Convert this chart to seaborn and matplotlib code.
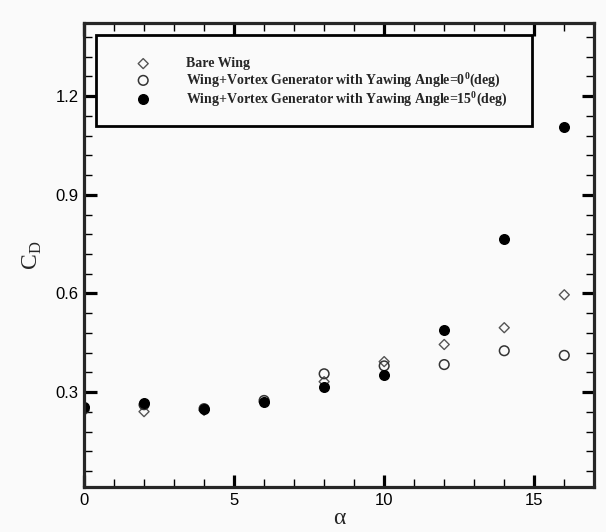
import matplotlib
matplotlib.use("Agg")
import matplotlib.pyplot as plt
import seaborn as sns
from matplotlib.ticker import MultipleLocator

# angle of attack (deg)
alpha = [0, 2, 4, 6, 8, 10, 12, 14, 16]

# drag coefficient for the three configurations
cd_bare = [0.244, 0.241, 0.245, 0.270, 0.332, 0.393, 0.445, 0.496, 0.596]
cd_vg0 = [0.250, 0.262, 0.250, 0.275, 0.356, 0.380, 0.384, 0.426, 0.412]
cd_vg15 = [0.256, 0.266, 0.249, 0.271, 0.315, 0.353, 0.489, 0.765, 1.105]

labels = [
    "Bare Wing",
    r"Wing+Vortex Generator with Yawing Angle=0$^{\mathbf{0}}$(deg)",
    r"Wing+Vortex Generator with Yawing Angle=15$^{\mathbf{0}}$(deg)",
]

sns.set_style("ticks")
plt.rcParams["font.family"] = ["Liberation Sans", "DejaVu Sans"]
plt.rcParams["mathtext.fontset"] = "custom"
plt.rcParams["mathtext.rm"] = "Liberation Serif"
plt.rcParams["mathtext.bf"] = "Liberation Serif:bold"

bg = "#fafafa"
fig = plt.figure(figsize=(6.06, 5.32), dpi=100, facecolor=bg)
ax = fig.add_axes([0.1386, 0.0846, 0.8421, 0.8716], facecolor=bg)

# draw order: diamonds, open circles, filled circles on top
sns.scatterplot(x=alpha, y=cd_bare, marker="D", s=26, facecolor="none",
                edgecolor="#555555", linewidth=1.0, label=labels[0], ax=ax)
sns.scatterplot(x=alpha, y=cd_vg0, marker="o", s=48, facecolor="none",
                edgecolor="#333333", linewidth=1.1, label=labels[1], ax=ax)
sns.scatterplot(x=alpha, y=cd_vg15, marker="o", s=48, facecolor="black",
                edgecolor="black", linewidth=1.0, label=labels[2], ax=ax)

ax.set_xlim(0, 17)
ax.set_ylim(0.012, 1.421)
ax.xaxis.set_major_locator(MultipleLocator(5))
ax.xaxis.set_minor_locator(MultipleLocator(1))
ax.yaxis.set_major_locator(MultipleLocator(0.3))
ax.yaxis.set_minor_locator(MultipleLocator(0.06))
ax.set_yticks([0.3, 0.6, 0.9, 1.2])
ax.set_yticklabels(["0.3", "0.6", "0.9", "1.2"])

for s in ax.spines.values():
    s.set_linewidth(2.3)
    s.set_visible(True)
ax.tick_params(which="both", direction="in", top=True, right=True,
               colors="black", labelsize=12, pad=4)
ax.tick_params(which="major", length=9, width=2.3)
ax.tick_params(which="minor", length=6, width=1.0)

ax.set_xlabel("α", family=["Liberation Serif", "DejaVu Serif"], fontsize=17, labelpad=0)
ax.set_ylabel(r"$\mathrm{C}_{\mathrm{D}}$", fontsize=17, labelpad=8)

# blank title pushes the rows down a little inside the box
leg = ax.legend(loc="upper left", bbox_to_anchor=(0.0235, 0.778, 0.854, 0.197),
                mode="expand", frameon=True, fancybox=False,
                prop={"family": "Liberation Serif", "weight": "bold", "size": 10},
                title=" ", title_fontsize=4,
                borderpad=1.25, labelspacing=0.0, handlelength=4.3,
                handletextpad=0.9, borderaxespad=0)
leg.get_frame().set_edgecolor("black")
leg.get_frame().set_linewidth(2.0)
leg.get_frame().set_facecolor(bg)
leg.get_frame().set_alpha(1)

fig.savefig("out.png", dpi=100, facecolor=bg)
